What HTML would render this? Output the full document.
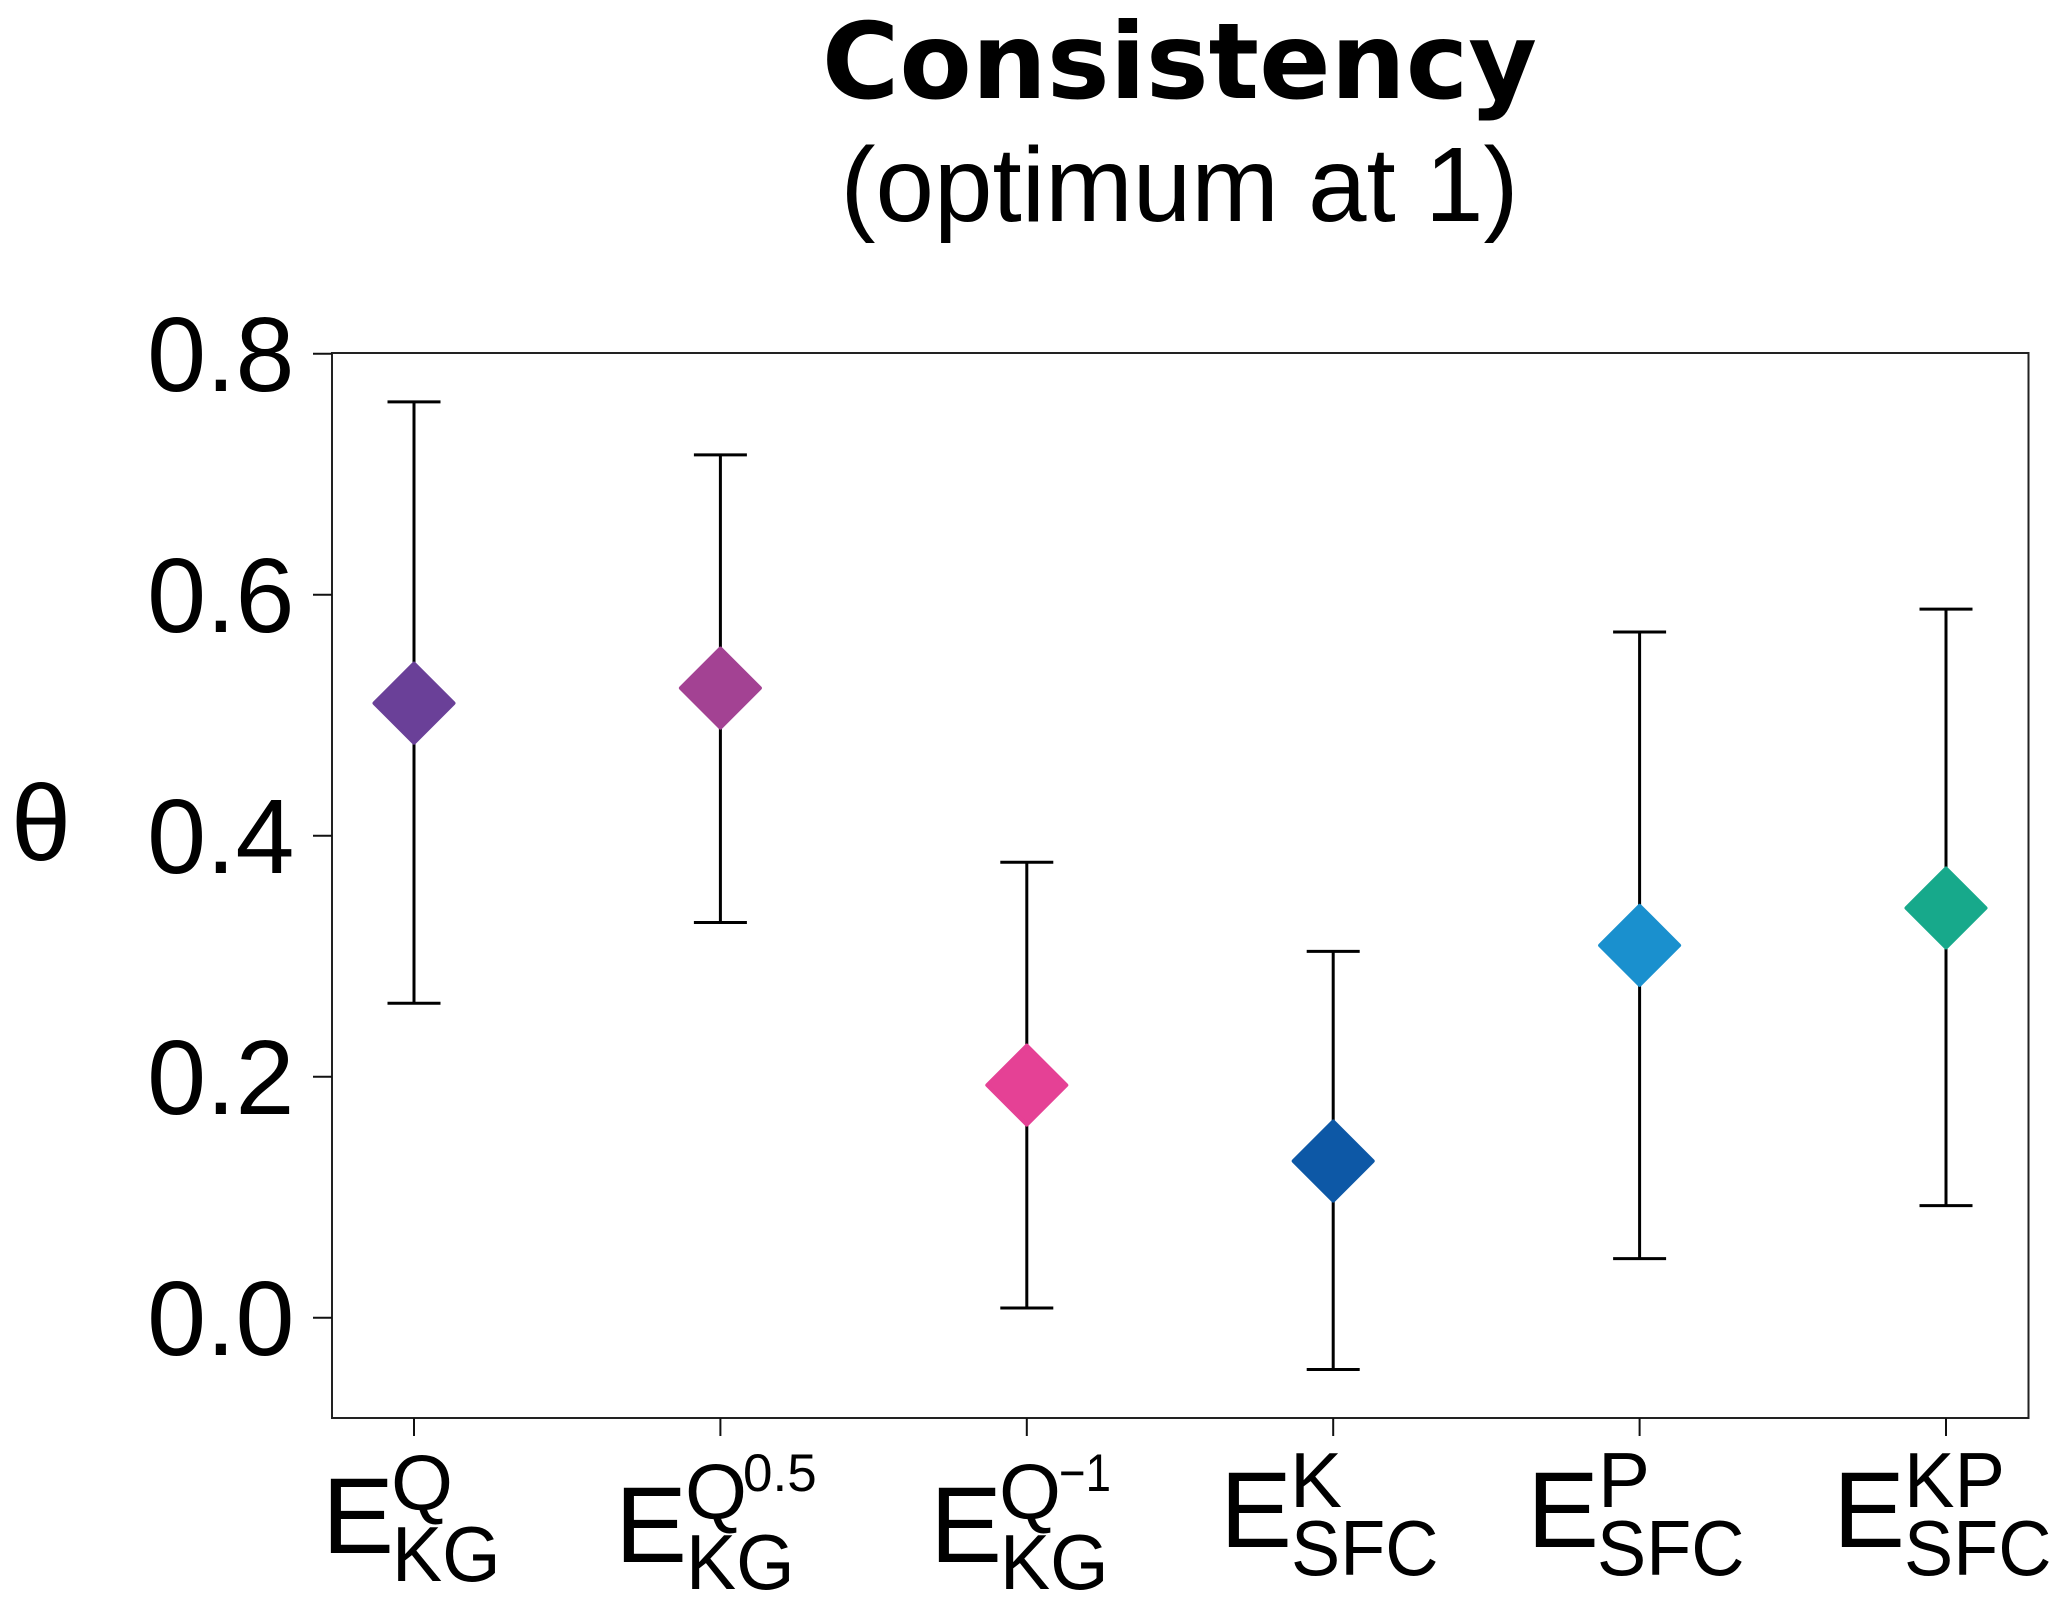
<!DOCTYPE html>
<html lang="en">
<head>
<meta charset="utf-8">
<title>Consistency</title>
<style>
html,body{margin:0;padding:0;background:#fff;}
svg{display:block;}
text{font-family:"Liberation Sans",sans-serif;fill:#000;}
.title{font-family:"DejaVu Sans",sans-serif;font-weight:700;font-size:105.5px;}
.main{font-size:108px;}
.scr{font-size:78px;}
.scr2{font-size:53px;}
</style>
</head>
<body>
<svg id="chart" width="2067" height="1609" viewBox="0 0 2067 1609" xmlns="http://www.w3.org/2000/svg">
  <rect x="0" y="0" width="2067" height="1609" fill="#fff"/>
  <text class="title" x="1179.5" y="98" text-anchor="middle">Consistency</text>
  <text x="1179.5" y="221" text-anchor="middle" font-size="106" textLength="678" lengthAdjust="spacingAndGlyphs">(optimum at 1)</text>
  <text x="11" y="860" font-size="108">θ</text>
  <rect x="332" y="353" width="1696.5" height="1065" fill="none" stroke="#222" stroke-width="2"/>
  <g id="y-axis"></g>
  <g id="x-ticks"></g>
  <g id="series"></g>

  <g>
    <text class="main" x="322" y="1553">E</text>
    <text class="scr" x="391" y="1510" textLength="62" lengthAdjust="spacingAndGlyphs">Q</text>
    <text class="scr" x="392" y="1581" textLength="108.6" lengthAdjust="spacingAndGlyphs">KG</text>
  </g>
  <g>
    <text class="main" x="615" y="1562">E</text>
    <text class="scr" x="685" y="1519" textLength="62" lengthAdjust="spacingAndGlyphs">Q</text>
    <text class="scr" x="686" y="1589" textLength="108.6" lengthAdjust="spacingAndGlyphs">KG</text>
    <text class="scr2" x="743" y="1491">0.5</text>
  </g>
  <g>
    <text class="main" x="930" y="1562">E</text>
    <text class="scr" x="999" y="1519" textLength="62" lengthAdjust="spacingAndGlyphs">Q</text>
    <text class="scr" x="1000" y="1589" textLength="108.6" lengthAdjust="spacingAndGlyphs">KG</text>
    <text class="scr2" x="1059" y="1491" textLength="52" lengthAdjust="spacingAndGlyphs">−1</text>
  </g>
  <g>
    <text class="main" x="1220" y="1547">E</text>
    <text class="scr" x="1290" y="1507">K</text>
    <text class="scr" x="1291" y="1575" textLength="147.5" lengthAdjust="spacingAndGlyphs">SFC</text>
  </g>
  <g>
    <text class="main" x="1527" y="1547">E</text>
    <text class="scr" x="1598" y="1507">P</text>
    <text class="scr" x="1597" y="1575" textLength="147.5" lengthAdjust="spacingAndGlyphs">SFC</text>
  </g>
  <g>
    <text class="main" x="1833" y="1547">E</text>
    <text class="scr" x="1904" y="1507" textLength="101" lengthAdjust="spacingAndGlyphs">KP</text>
    <text class="scr" x="1904" y="1575" textLength="147.5" lengthAdjust="spacingAndGlyphs">SFC</text>
  </g>
</svg>
<script>
const categories = ['E_KG^Q', 'E_KG^Q0.5', 'E_KG^Q-1', 'E_SFC^K', 'E_SFC^P', 'E_SFC^KP'];
const centers = [0.510, 0.5225, 0.193, 0.130, 0.309, 0.340];
const upper = [0.760, 0.716, 0.378, 0.304, 0.569, 0.588];
const lower = [0.261, 0.328, 0.008, -0.043, 0.049, 0.093];
const colors = ['#6A4098', '#A34293', '#E54195', '#0D58A6', '#1A90CE', '#17A98B'];
const yTicks = [0, 0.2, 0.4, 0.6, 0.8];
const yTickLabels = ['0.0', '0.2', '0.4', '0.6', '0.8'];

const NS = 'http://www.w3.org/2000/svg';
function yScale(v) { return 1317.7 - v * 1205; }
function xScale(i) { return 414 + i * 306.4; }
function mk(parent, tag, attrs) {
  const el = document.createElementNS(NS, tag);
  for (const k in attrs) el.setAttribute(k, attrs[k]);
  parent.appendChild(el);
  return el;
}
const yAxis = document.getElementById('y-axis');
yTicks.forEach(function (t, i) {
  const tick = mk(yAxis, 'line', { x1: 313, x2: 332, y1: yScale(t), y2: yScale(t), stroke: '#111', 'stroke-width': 2 });
  
  
  const lab = mk(yAxis, 'text', { x: 294.5, y: yScale(t) + 37.5, 'text-anchor': 'end', 'font-size': 106 });
  lab.textContent = yTickLabels[i];
  
  
});
const xTicks = document.getElementById('x-ticks');
categories.forEach(function (c, i) {
  const tick = mk(xTicks, 'line', { x1: xScale(i), x2: xScale(i), y1: 1418, y2: 1436, stroke: '#111', 'stroke-width': 2 });
  
  
});
const series = document.getElementById('series');
categories.forEach(function (c, i) {
  const x = xScale(i);
  const g = mk(series, 'g', {});
  
  
  const stem = mk(g, 'line', { x1: x, x2: x, y1: yScale(upper[i]), y2: yScale(lower[i]), stroke: '#000', 'stroke-width': 3 });
  
  
  const capTop = mk(g, 'line', { x1: x - 26.5, x2: x + 26.5, y1: yScale(upper[i]), y2: yScale(upper[i]), stroke: '#000', 'stroke-width': 3 });
  
  
  const capLow = mk(g, 'line', { x1: x - 26.5, x2: x + 26.5, y1: yScale(lower[i]), y2: yScale(lower[i]), stroke: '#000', 'stroke-width': 3 });
  
  
  const cy = yScale(centers[i]);
  const h = 39.5;
  const d = mk(g, 'polygon', {
    points: x + ',' + (cy - h) + ' ' + (x + h) + ',' + cy + ' ' + x + ',' + (cy + h) + ' ' + (x - h) + ',' + cy,
    fill: colors[i], stroke: colors[i], 'stroke-width': 4, 'stroke-linejoin': 'round'
  });
  
  
});
</script>
</body>
</html>
